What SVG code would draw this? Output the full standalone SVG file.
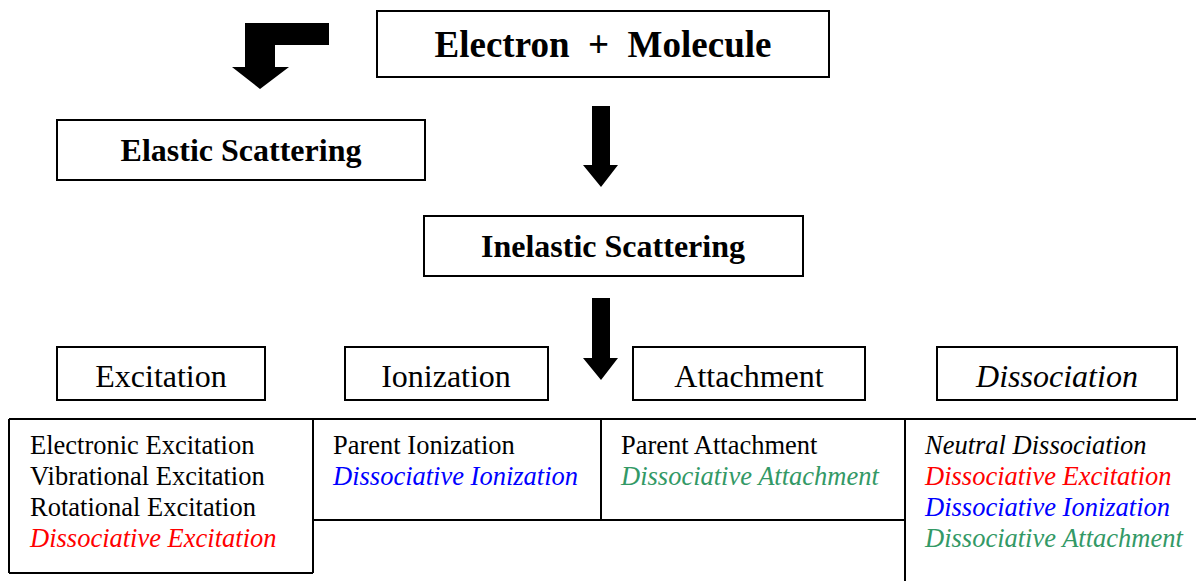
<svg xmlns="http://www.w3.org/2000/svg" width="1196" height="581" viewBox="0 0 1196 581">
<style>
.box{fill:#fff;stroke:#000;stroke-width:2}
.ln{stroke:#000;stroke-width:2;fill:none}
.arr{fill:#000;stroke:none}
text{font-family:"Liberation Serif","Times New Roman",serif;fill:#000}
.t1{font-size:37px;font-weight:bold;text-anchor:middle}
.t2{font-size:32px;font-weight:bold;text-anchor:middle}
.t3{font-size:32px;text-anchor:middle}
.li{font-size:26.5px}
.i{font-style:italic}
.red{fill:#ff0000}
.blue{fill:#0000ff}
.green{fill:#339966}
</style>
<g id="connectors">
<path class="arr" d="M329,23 L245,23 L245,67 L232,67 L260,89 L289,67 L275,67 L275,45 L329,45 Z"/>
<path class="arr" d="M592,106 L610,106 L610,165 L618,165 L601,187 L583,165 L592,165 Z"/>
<path class="arr" d="M592,298 L610,298 L610,358 L618,358 L601,380 L583,358 L592,358 Z"/>
</g>
<g id="electron-molecule"><rect class="box" x="377" y="11" width="452" height="66"/><text class="t1" x="603" y="57" xml:space="preserve">Electron  +  Molecule</text></g>
<g id="elastic"><rect class="box" x="57" y="120" width="368" height="60"/><text class="t2" x="241" y="161">Elastic Scattering</text></g>
<g id="inelastic"><rect class="box" x="424" y="216" width="379" height="60"/><text class="t2" x="613" y="257">Inelastic Scattering</text></g>
<g id="excitation"><rect class="box" x="57" y="347" width="208" height="53"/><text class="t3" x="161" y="387">Excitation</text></g>
<g id="ionization"><rect class="box" x="345" y="347" width="203" height="53"/><text class="t3" x="446" y="387">Ionization</text></g>
<g id="attachment"><rect class="box" x="633" y="347" width="232" height="53"/><text class="t3" x="749" y="387">Attachment</text></g>
<g id="dissociation"><rect class="box" x="937" y="347" width="240" height="53"/><text class="t3 i" x="1057" y="387">Dissociation</text></g>
<g id="table">
<line class="ln" x1="9" y1="419" x2="1196" y2="419"/>
<line class="ln" x1="9" y1="419" x2="9" y2="573"/>
<line class="ln" x1="9" y1="573" x2="313" y2="573"/>
<line class="ln" x1="313" y1="419" x2="313" y2="573"/>
<line class="ln" x1="313" y1="520" x2="905" y2="520"/>
<line class="ln" x1="601" y1="419" x2="601" y2="520"/>
<line class="ln" x1="905" y1="419" x2="905" y2="581"/>
</g>
<g id="excitation-list">
<text class="li" x="30" y="454">Electronic Excitation</text>
<text class="li" x="30" y="485">Vibrational Excitation</text>
<text class="li" x="30" y="516">Rotational Excitation</text>
<text class="li i red" x="30" y="547">Dissociative Excitation</text>
</g>
<g id="ionization-list">
<text class="li" x="333" y="454">Parent Ionization</text>
<text class="li i blue" x="333" y="485">Dissociative Ionization</text>
</g>
<g id="attachment-list">
<text class="li" x="621" y="454">Parent Attachment</text>
<text class="li i green" x="621" y="485">Dissociative Attachment</text>
</g>
<g id="dissociation-list">
<text class="li i" x="925" y="454">Neutral Dissociation</text>
<text class="li i red" x="925" y="485">Dissociative Excitation</text>
<text class="li i blue" x="925" y="516">Dissociative Ionization</text>
<text class="li i green" x="925" y="547">Dissociative Attachment</text>
</g>
</svg>
